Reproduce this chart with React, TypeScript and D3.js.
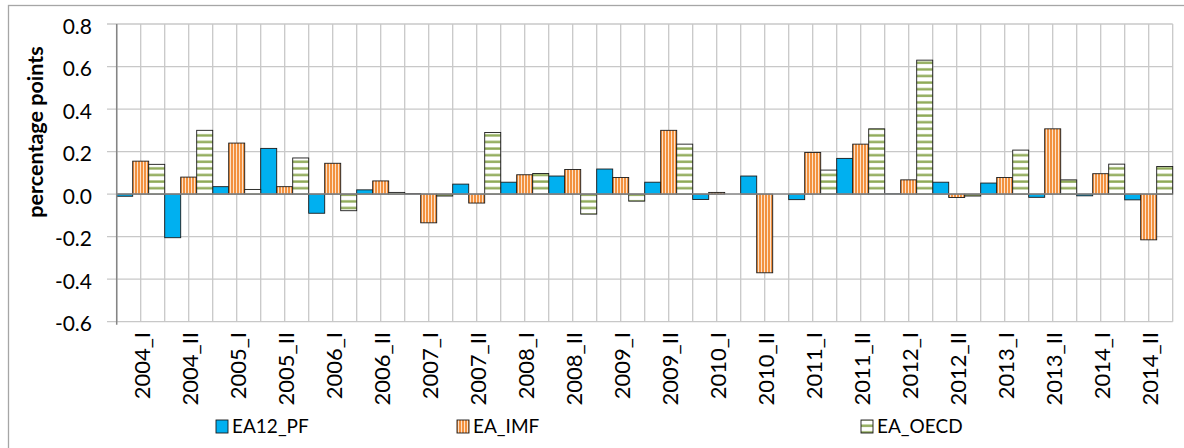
import React from "react";
import * as d3 from "d3";

const categories = [
  "2004_I", "2004_II", "2005_I", "2005_II", "2006_I", "2006_II", "2007_I", "2007_II",
  "2008_I", "2008_II", "2009_I", "2009_II", "2010_I", "2010_II", "2011_I", "2011_II",
  "2012_I", "2012_II", "2013_I", "2013_II", "2014_I", "2014_II",
];
const seriesNames = ["EA12_PF", "EA_IMF", "EA_OECD"];
const ea12PF = [-0.01, -0.205, 0.035, 0.215, -0.09, 0.02, 0.003, 0.047, 0.056, 0.085, 0.118, 0.056,
  -0.025, 0.085, -0.026, 0.168, 0.002, 0.056, 0.052, -0.015, -0.008, -0.027];
const eaIMF = [0.155, 0.08, 0.24, 0.035, 0.145, 0.062, -0.135, -0.042, 0.091, 0.116, 0.078, 0.3,
  0.008, -0.37, 0.196, 0.235, 0.067, -0.016, 0.078, 0.307, 0.096, -0.215];
const eaOECD = [0.14, 0.3, 0.022, 0.17, -0.078, 0.008, -0.009, 0.29, 0.097, -0.094, -0.033, 0.235,
  0.0, 0.0, 0.113, 0.307, 0.63, -0.009, 0.207, 0.067, 0.141, 0.13];
const yTicks = [-0.6, -0.4, -0.2, 0.0, 0.2, 0.4, 0.6, 0.8];
const yTitle = "percentage points";

const W = 1184;
const H = 448;
const plot = { left: 116.7, right: 1172.7, top: 24, bottom: 321.7 };
const FONT = "Lato, 'Open Sans', sans-serif";

export default function App() {
  const x = d3.scaleBand<string>().domain(categories).range([plot.left, plot.right]).padding(0);
  const x1 = d3.scaleBand<string>().domain(seriesNames).range([0, x.bandwidth()]).padding(0);
  const y = d3.scaleLinear().domain([-0.6, 0.8]).range([plot.bottom, plot.top]);
  const fmt = (v: number) => d3.format(".1f")(v).replace("\u2212", "-");
  const values = [ea12PF, eaIMF, eaOECD];
  const fills = ["#00B0F0", "url(#pOrange)", "url(#pGreen)"];
  const bw = x.bandwidth();

  const vLines: number[] = [];
  categories.forEach((c) => {
    vLines.push(x(c)!);
    vLines.push(x(c)! + bw / 2);
  });
  vLines.push(plot.right);

  const legend = [
    { name: seriesNames[0], mx: 216, tx: 232, fill: fills[0] },
    { name: seriesNames[1], mx: 457, tx: 473, fill: fills[1] },
    { name: seriesNames[2], mx: 861, tx: 877, fill: fills[2] },
  ];

  return (
    <svg
      width={W}
      height={H}
      style={{ position: "absolute", left: 0, top: 0, background: "#fff" }}
      fontFamily={FONT}
    >
      <defs>
        <pattern id="pOrange" patternUnits="userSpaceOnUse" width={3} height={4}>
          <rect x={0} y={0} width={3} height={4} fill="#FDE2CA" />
          <rect x={0} y={0} width={2} height={4} fill="#F2913F" />
        </pattern>
        <pattern id="pGreen" patternUnits="userSpaceOnUse" width={4} height={6.6}>
          <rect x={0} y={0} width={4} height={6.6} fill="#FFFFFF" />
          <rect x={0} y={2.2} width={4} height={2.4} fill="#8FAA58" />
        </pattern>
      </defs>

      {/* outer chart border */}
      <rect x={8.5} y={5.5} width={1200} height={460} fill="none" stroke="#A6A6A6" strokeWidth={1.3} />

      {/* gridlines */}
      {yTicks.map((t) => (
        <line key={"h" + t} x1={107} x2={plot.right} y1={y(t)} y2={y(t)} stroke="#C8C8C8" strokeWidth={1.3} />
      ))}
      {vLines.map((v, i) => (
        <line key={"v" + i} x1={v} x2={v} y1={plot.top} y2={plot.bottom} stroke="#C8C8C8" strokeWidth={1.3} />
      ))}

      {/* bars */}
      {seriesNames.map((s, si) =>
        categories.map((c, ci) => {
          const v = values[si][ci];
          if (v === 0) return null;
          const y0 = y(0);
          const yv = y(v);
          return (
            <rect
              key={s + c}
              x={x(c)! + x1(s)!}
              y={Math.min(y0, yv)}
              width={x1.bandwidth()}
              height={Math.abs(yv - y0)}
              fill={fills[si]}
              stroke="#1A1A1A"
              strokeWidth={0.9}
            />
          );
        })
      )}

      {/* axes */}
      <line x1={plot.left} x2={plot.left} y1={plot.top} y2={plot.bottom + 3} stroke="#858585" strokeWidth={1.5} />
      <line x1={plot.left} x2={plot.right} y1={y(0)} y2={y(0)} stroke="#8C8C8C" strokeWidth={1.5} />

      {/* y tick labels */}
      {yTicks.map((t) => (
        <text key={"yl" + t} x={92} y={y(t) + 1} textAnchor="end" dominantBaseline="central" fontSize={21} fill="#000">
          {fmt(t)}
        </text>
      ))}

      {/* y title */}
      <text
        transform={`translate(35, ${132}) rotate(-90)`}
        textAnchor="middle"
        dominantBaseline="central"
        fontSize={21.5}
        fontWeight="bold"
        fill="#000"
      >
        {yTitle}
      </text>

      {/* x labels */}
      {categories.map((c) => (
        <text
          key={"xl" + c}
          transform={`translate(${x(c)! + bw / 2 + 1}, 332) rotate(-90)`}
          textAnchor="end"
          dominantBaseline="central"
          fontSize={22}
          fill="#000"
        >
          {c}
        </text>
      ))}

      {/* legend */}
      {legend.map((l) => (
        <g key={l.name}>
          <rect x={l.mx} y={420} width={12} height={13} fill={l.fill} stroke="#1A1A1A" strokeWidth={0.9} />
          <text x={l.tx} y={433} fontSize={19} fill="#000">
            {l.name}
          </text>
        </g>
      ))}
    </svg>
  );
}
